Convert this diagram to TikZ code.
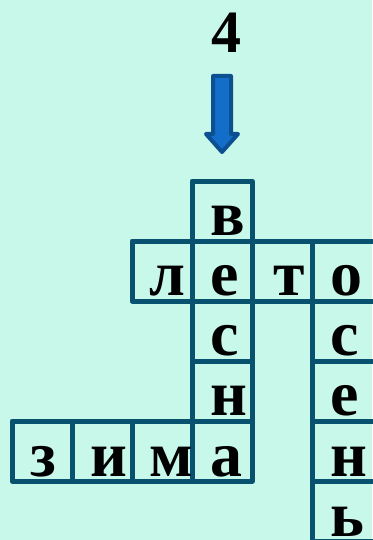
\documentclass[tikz,border=0pt]{standalone}
\usepackage{fontspec}
\setmainfont{Liberation Serif}
\begin{document}
\begin{tikzpicture}[x=1pt,y=-1pt]
\definecolor{bgc}{RGB}{200,248,234}
\definecolor{gridc}{RGB}{8,82,112}
\definecolor{arrowfill}{RGB}{18,110,200}
\definecolor{arrowedge}{RGB}{12,80,145}
\tikzset{
  cell/.style={draw=gridc, line width=5pt, line join=round, minimum width=60pt, minimum height=60pt, inner sep=0pt, outer sep=0pt},
  widecell/.style={cell, minimum width=66pt},
  letter/.style={anchor=base west, inner sep=0pt, font=\fontsize{64}{64}\selectfont\bfseries},
  numlabel/.style={anchor=base, inner sep=0pt, font=\fontsize{60}{60}\selectfont\bfseries},
  blockarrow/.style={fill=arrowfill, draw=arrowedge, line width=4pt, line join=round}
}
\fill[bgc] (0,0) rectangle (372,540);
\useasboundingbox (0,0) rectangle (372,540);
% number and arrow
\node[numlabel] (num) at (226.5,53) {4};
\draw[blockarrow] (213,76) -- (231,76) -- (231,134) -- (238,134) -- (222,152) -- (206,134) -- (213,134) -- cycle;
% cells
\node[cell] (r0c3) at (222,211) {};
\node[cell] (r1c2) at (162,271) {};
\node[cell] (r1c3) at (222,271) {};
\node[cell] (r1c4) at (282,271) {};
\node[widecell] (r1c5) at (345,271) {};
\node[cell] (r2c3) at (222,331) {};
\node[widecell] (r2c5) at (345,331) {};
\node[cell] (r3c3) at (222,391) {};
\node[widecell] (r3c5) at (345,391) {};
\node[cell] (r4c0) at (42,451) {};
\node[cell] (r4c1) at (102,451) {};
\node[cell] (r4c2) at (162,451) {};
\node[cell] (r4c3) at (222,451) {};
\node[widecell] (r4c5) at (345,451) {};
\node[widecell] (r5c5) at (345,511) {};
% letters
\node[letter] (t03) at (210,235) {в};
\node[letter] (t12) at (149,295) {л};
\node[letter] (t13) at (210,295) {е};
\node[letter] (t14) at (273,295) {т};
\node[letter] (t15) at (330,295) {о};
\node[letter] (t23) at (210,355) {с};
\node[letter] (t25) at (330,355) {с};
\node[letter] (t33) at (210,415) {н};
\node[letter] (t35) at (330,415) {е};
\node[letter] (t40) at (30,476) {з};
\node[letter] (t41) at (90,476) {и};
\node[letter] (t42) at (149,476) {м};
\node[letter] (t43) at (210,476) {а};
\node[letter] (t45) at (330,476) {н};
\node[letter] (t55) at (330,536) {ь};
\end{tikzpicture}
\end{document}
